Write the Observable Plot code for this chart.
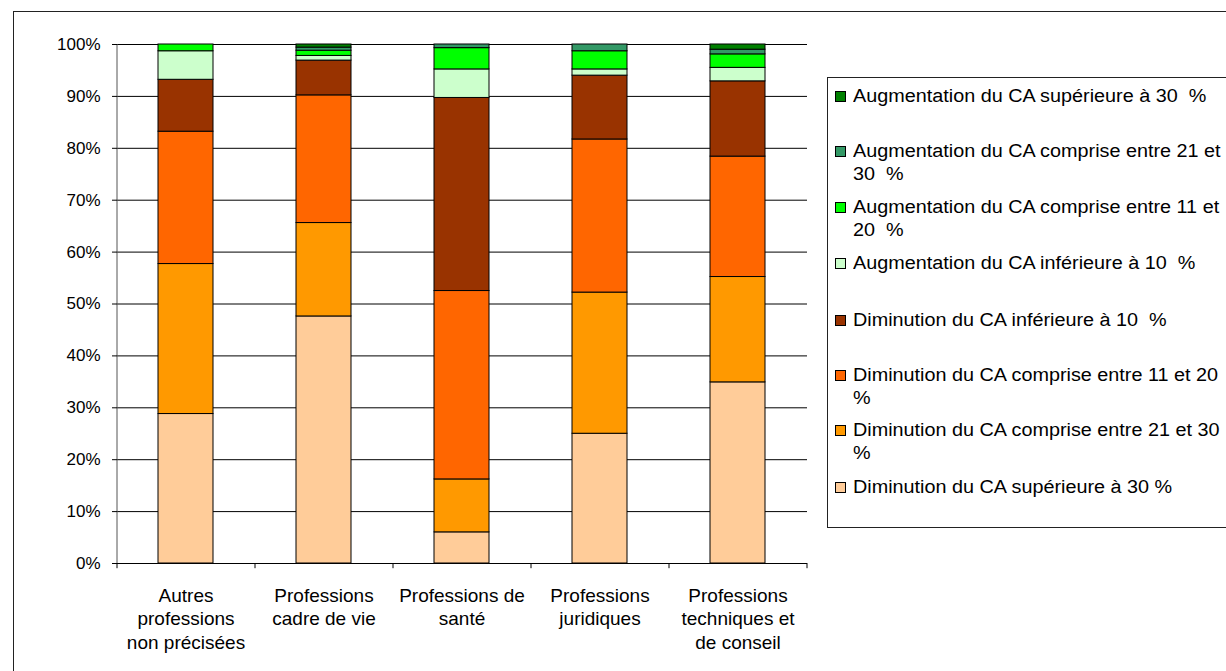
<!DOCTYPE html>
<html><head><meta charset="utf-8">
<script src="https://cdn.jsdelivr.net/npm/d3@7"></script>
<script src="https://cdn.jsdelivr.net/npm/@observablehq/plot@0.6"></script>
<style>
body{margin:0;background:#fff;font-family:"Liberation Sans",Arial,sans-serif;overflow:hidden;}
#frame{position:absolute;left:13px;top:11px;width:1300px;height:800px;border-left:1px solid #222;border-top:1px solid #222;box-sizing:border-box;}
#chart{position:absolute;left:0;top:0;}
#legend{position:absolute;left:827px;top:77px;width:500px;height:451px;border:1px solid #222;box-sizing:border-box;background:#fff;}
.item{position:absolute;left:7px;white-space:pre;font-size:18px;line-height:23px;color:#000;}
.sw{position:absolute;left:0;top:6px;width:11px;height:11px;border:1px solid #000;box-sizing:border-box;}
.lab{position:absolute;left:18px;top:0;transform:scaleX(1.1);transform-origin:left top;}
</style>
</head><body>
<div id="frame"></div>
<div id="chart"></div>
<div id="legend"></div>
<script>
const categories = ["Autres professions non précisées", "Professions cadre de vie", "Professions de santé", "Professions juridiques", "Professions techniques et de conseil"];
const categoryLines = ["Autres\nprofessions\nnon précisées", "Professions\ncadre de vie", "Professions de\nsanté", "Professions\njuridiques", "Professions\ntechniques et\nde conseil"];

// series, bottom to top of stack
const seriesNames = [
  "Diminution du CA supérieure à 30 %",
  "Diminution du CA comprise entre 21 et 30 %",
  "Diminution du CA comprise entre 11 et 20 %",
  "Diminution du CA inférieure à 10  %",
  "Augmentation du CA inférieure à 10  %",
  "Augmentation du CA comprise entre 11 et 20  %",
  "Augmentation du CA comprise entre 21 et 30  %",
  "Augmentation du CA supérieure à 30  %"
];
const seriesColors = ["#FFCC99", "#FF9900", "#FF6600", "#993300", "#CCFFCC", "#00FF00", "#339966", "#008000"];

const dimSup30  = [28.8, 47.6,  6.0, 25.0, 34.9];
const dim21a30  = [28.9, 18.0, 10.2, 27.2, 20.3];
const dim11a20  = [25.5, 24.6, 36.3, 29.5, 23.2];
const dimInf10  = [10.0,  6.7, 37.2, 12.3, 14.5];
const augInf10  = [ 5.5,  0.9,  5.5,  1.2,  2.6];
const aug11a20  = [ 1.3,  1.0,  4.1,  3.5,  2.6];
const aug21a30  = [ 0.0,  0.6,  0.7,  1.3,  0.9];
const augSup30  = [ 0.0,  0.6,  0.0,  0.0,  1.0];
const seriesValues = [dimSup30, dim21a30, dim11a20, dimInf10, augInf10, aug11a20, aug21a30, augSup30];

// legend order (top to bottom) and displayed line breaks
const legendOrder = [7, 6, 5, 4, 3, 2, 1, 0];
const legendLabels = [
  "Diminution du CA supérieure à 30 %",
  "Diminution du CA comprise entre 21 et 30\n%",
  "Diminution du CA comprise entre 11 et 20\n%",
  "Diminution du CA inférieure à 10  %",
  "Augmentation du CA inférieure à 10  %",
  "Augmentation du CA comprise entre 11 et\n20  %",
  "Augmentation du CA comprise entre 21 et\n30  %",
  "Augmentation du CA supérieure à 30  %"
];
const yTicks = [0, 10, 20, 30, 40, 50, 60, 70, 80, 90, 100];

const data = [];
seriesNames.forEach((s, i) => categories.forEach((c, j) => data.push({cat: c, series: s, value: seriesValues[i][j]})));

const W = 830, H = 671, ML = 117, MR = 23, MT = 44, MB = 108;
const step = (W - ML - MR) / categories.length;

const chart = Plot.plot({
  width: W, height: H,
  marginLeft: ML, marginRight: MR, marginTop: MT, marginBottom: MB,
  style: {fontFamily: "'Liberation Sans', Arial, sans-serif", background: "transparent", color: "#000"},
  x: {domain: categories, paddingInner: 0.6, paddingOuter: 0.3, axis: null},
  y: {domain: [0, 100], axis: null},
  color: {domain: seriesNames, range: seriesColors},
  marks: [
    Plot.ruleY(yTicks, {stroke: "#000", strokeWidth: 1}),
    Plot.barY(data, {x: "cat", y: "value", fill: "series", stroke: "#000", strokeWidth: 1, order: seriesNames}),
    Plot.ruleX([categories[0]], {dx: -step / 2, y1: 0, y2: 100, stroke: "#555"}),
    Plot.ruleX(categories, {dx: -step / 2, y1: 0, y2: -1, stroke: "#000"}),
    Plot.ruleX([categories[categories.length - 1]], {dx: step / 2, y1: 0, y2: -1, stroke: "#000"}),
    Plot.axisY({ticks: yTicks, tickFormat: d => d + "%", tickSize: 5, tickPadding: 12, fontSize: 17, stroke: "#000", label: null}),
    Plot.axisX({tickSize: 0, tickPadding: 21, tickFormat: d => categoryLines[categories.indexOf(d)], fontSize: 19, lineHeight: 1.26, label: null})
  ]
});
document.getElementById("chart").appendChild(chart);

const legend = document.getElementById("legend");
const centers = [96, 151, 207, 263, 320, 375, 430, 487];
legendOrder.forEach((si, k) => {
  const item = document.createElement("div");
  item.className = "item";
  item.style.top = (centers[k] - 77 - 1 - 11.5) + "px";
  const sw = document.createElement("div");
  sw.className = "sw";
  sw.style.background = seriesColors[si];
  const lab = document.createElement("div");
  lab.className = "lab";
  lab.textContent = legendLabels[si];
  item.appendChild(sw);
  item.appendChild(lab);
  legend.appendChild(item);
});
</script>
</body></html>
